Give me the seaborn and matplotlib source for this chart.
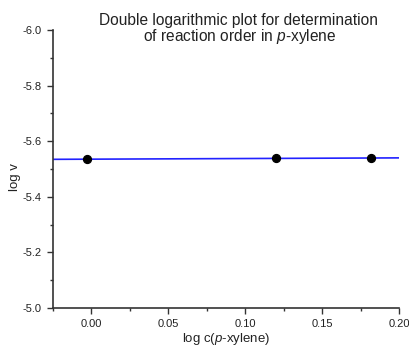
import matplotlib
matplotlib.use("Agg")
import matplotlib.pyplot as plt
import seaborn as sns
import pandas as pd
from matplotlib.ticker import MultipleLocator

log_c = [-0.003, 0.120, 0.182]
log_v = [-5.535, -5.539, -5.539]

x_ticks = [0.00, 0.05, 0.10, 0.15, 0.20]
y_ticks = [-6.0, -5.8, -5.6, -5.4, -5.2, -5.0]

title_lines = ["Double logarithmic plot for determination",
               "of reaction order in $\\it{p}$-xylene"]

sns.set_style("ticks")
plt.rcParams['font.family'] = ['Liberation Sans', 'DejaVu Sans']
plt.rcParams['mathtext.fontset'] = 'custom'
plt.rcParams['mathtext.it'] = 'Liberation Sans:italic'
plt.rcParams['mathtext.rm'] = 'Liberation Sans'

df = pd.DataFrame({"log c": log_c, "log v": log_v})

W, H = 409, 347
fig = plt.figure(figsize=(W / 100, H / 100), dpi=100)
ax = fig.add_axes([53 / W, 39 / H, 346 / W, 278 / H])
ax.set_xlim(-0.025, 0.20)
ax.set_ylim(-5.0, -6.0)

sns.regplot(data=df, x="log c", y="log v", ax=ax, ci=None, truncate=False,
            scatter_kws=dict(s=32, color="black", zorder=3, edgecolor="black", alpha=1),
            line_kws=dict(color="#2222ff", lw=1.2, zorder=2))
ax.set_xlim(-0.025, 0.20)
ax.set_ylim(-5.0, -6.0)

ax.set_xticks(x_ticks)
ax.set_xticklabels([f"{t:.2f}" for t in x_ticks])
ax.set_yticks(y_ticks)
ax.set_yticklabels([f"{t:.1f}" for t in y_ticks])
ax.xaxis.set_minor_locator(MultipleLocator(0.025))
ax.yaxis.set_minor_locator(MultipleLocator(0.1))
ax.tick_params(which="major", length=4, width=1, color="#333333", labelsize=8,
               labelcolor="#222222", direction="out", pad=4)
ax.tick_params(which="minor", length=2, width=1, color="#333333", direction="out")
for s in ["top", "right"]:
    ax.spines[s].set_visible(False)
for s in ["left", "bottom"]:
    ax.spines[s].set_color("#333333")
    ax.spines[s].set_linewidth(1.2)

ax.set_xlabel("log c($\\it{p}$-xylene)", fontsize=9.5, color="#222222")
ax.xaxis.set_label_coords((226 - 53) / 346, -31 / 278)
ax.xaxis.label.set_va("center")
ax.set_ylabel("log v", fontsize=9.5, color="#222222")
ax.yaxis.set_label_coords((15 - 53) / 346, (308 - 177) / 278)
ax.yaxis.label.set_va("center")

fig.text(238.5 / W, 1 - 25 / H, title_lines[0], ha="center", va="baseline",
         fontsize=11.2, color="#222222")
fig.text(240 / W, 1 - 41.5 / H, title_lines[1], ha="center", va="baseline",
         fontsize=11.2, color="#222222")

fig.savefig("out.png", dpi=100)
